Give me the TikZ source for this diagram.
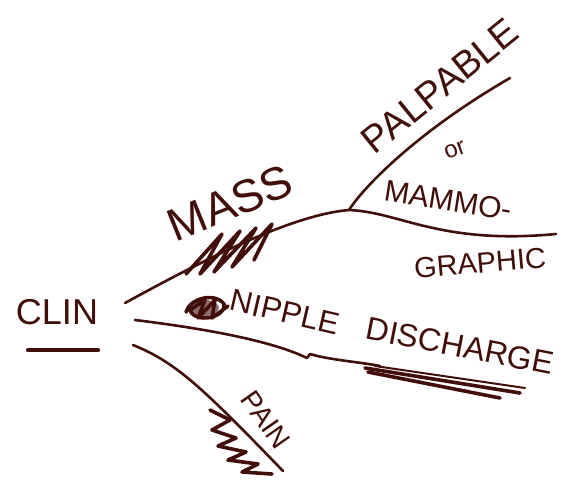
\documentclass[tikz,border=0pt]{standalone}
\usepackage{fontspec}
\setmainfont{Liberation Sans}
\definecolor{ink}{RGB}{66,14,10}
\tikzset{
  pen/.style={draw=ink, line width=2.6pt, line cap=round, line join=round},
  thickpen/.style={draw=ink, line width=4.2pt, line cap=round, line join=round},
  scrib/.style={draw=ink, line width=3.6pt, line cap=round, line join=round},
  lbl/.style={text=ink, inner sep=0pt, font=#1},
}
\begin{document}
\begin{tikzpicture}[x=1pt,y=-1pt]
\fill[white] (0,0) rectangle (583,499);
\useasboundingbox (0,0) rectangle (583,499);

% labels
\node[lbl={\fontsize{36}{36}\selectfont}] (clin) at (57,312) {CLIN};
\coordinate (ulA) at (28,350);
\coordinate (ulB) at (98,350);
\draw[thickpen] (ulA) -- (ulB);

\node[lbl={\fontsize{46}{46}\selectfont}, rotate=22] (mass) at (230,203) {MASS};
\node[lbl={\fontsize{38}{38}\selectfont}, rotate=39] (palp) at (440,86) {PALPABLE};
\node[lbl={\fontsize{24}{24}\selectfont}, rotate=20] (or) at (455,150) {or};
\node[lbl={\fontsize{30}{30}\selectfont}, rotate=-9] (mammo) at (448,200) {MAMMO-};
\node[lbl={\fontsize{29}{29}\selectfont}, rotate=5] (graphic) at (480,263) {GRAPHIC};
\node[lbl={\fontsize{31}{31}\selectfont}, rotate=-13] (nipple) at (285,312) {NIPPLE};
\node[lbl={\fontsize{32}{32}\selectfont}, rotate=-11] (disch) at (460,346) {DISCHARGE};
\node[lbl={\fontsize{28}{28}\selectfont}, rotate=-55] (pain) at (266,420) {PAIN};

% branch points
\coordinate (root1) at (125,303);
\coordinate (fork) at (349,210);
\coordinate (palpEnd) at (510,78);
\coordinate (mammoEnd) at (556,234);
\coordinate (root2) at (135,320);
\coordinate (kink) at (307,358);
\coordinate (nipEnd) at (380,366);
\coordinate (root3) at (133,345);
\coordinate (painEnd) at (283,471);

% connectors
\draw[pen] (root1) .. controls (200,262) and (290,215) .. (fork);
\draw[pen] (fork) .. controls (365,185) and (420,130) .. (palpEnd);
\draw[pen] (fork) .. controls (400,212) and (440,245) .. (mammoEnd);
\draw[pen] (root2) .. controls (200,328) and (270,340) .. (kink)
   -- (310,354) .. controls (330,360) and (360,362) .. (nipEnd);
\draw[pen] (root3) .. controls (175,362) and (200,385) .. (painEnd);

% scribbles: MASS
\draw[scrib] (186,274) -- (222,234) -- (200,274) -- (240,231) -- (214,272)
  -- (256,228) -- (232,267) -- (272,224) -- (254,260);
% crossed-out word before NIPPLE
\draw[scrib] (186,312) .. controls (190,298) and (215,292) .. (224,304)
  .. controls (226,318) and (195,324) .. (190,310)
  -- (205,300) -- (198,318) -- (215,300) -- (212,318) -- (228,306);
\fill[ink, opacity=0.6] (205,308) ellipse (14pt and 8pt);
% underline of DISCHARGE
\draw[scrib] (365,368) -- (520,393);
\draw[scrib] (368,372) -- (500,398);
\draw[draw=ink, line width=2pt, line cap=round] (375,366) -- (525,388);
% PAIN scribble
\draw[scrib] (210,410) -- (230,420) -- (212,430) -- (236,438) -- (218,446)
  -- (246,452) -- (228,460) -- (258,464) -- (242,472) -- (272,474);
\end{tikzpicture}
\end{document}
